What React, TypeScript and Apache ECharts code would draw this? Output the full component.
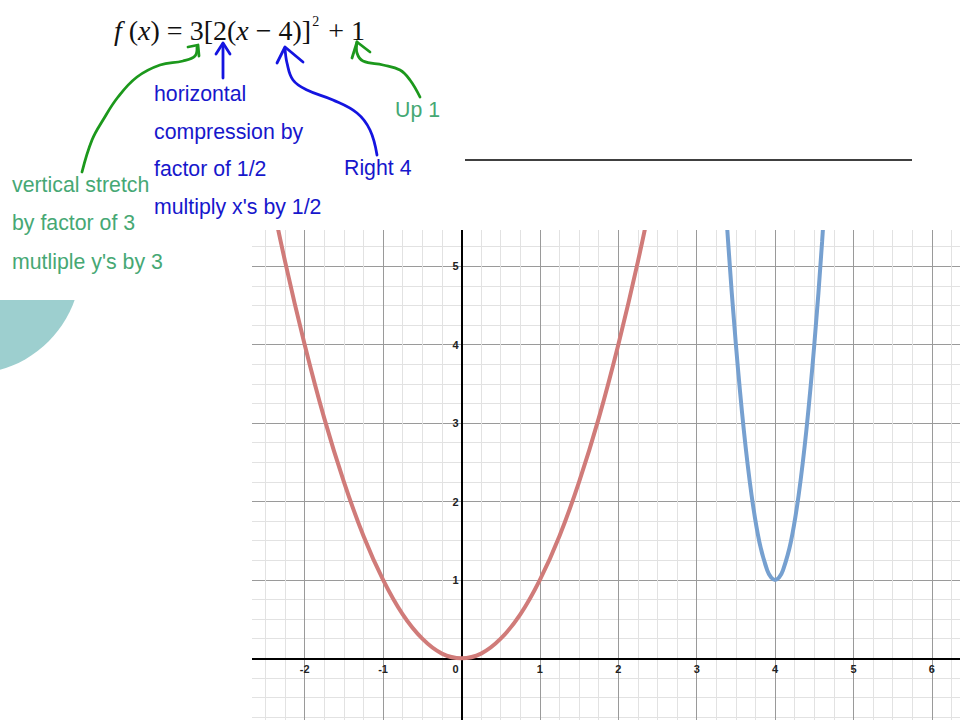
import React, { useEffect, useRef } from "react";
import * as echarts from "echarts";

// Curve samples (x, y)
const redX = [-2.5, -2.25, -2, -1.75, -1.5, -1.25, -1, -0.75, -0.5, -0.25, 0, 0.25, 0.5, 0.75, 1, 1.25, 1.5, 1.75, 2, 2.25, 2.5];
const redY = [6.25, 5.06, 4, 3.06, 2.25, 1.56, 1, 0.56, 0.25, 0.06, 0, 0.06, 0.25, 0.56, 1, 1.56, 2.25, 3.06, 4, 5.06, 6.25];
const blueX = [3.3, 3.4, 3.5, 3.6, 3.7, 3.8, 3.9, 3.95, 4, 4.05, 4.1, 4.2, 4.3, 4.4, 4.5, 4.6, 4.7];
const blueY = [6.88, 5.32, 4, 2.92, 2.08, 1.48, 1.12, 1.03, 1, 1.03, 1.12, 1.48, 2.08, 2.92, 4, 5.32, 6.88];

const xTickLabels = [-2, -1, 0, 1, 2, 3, 4, 5, 6];
const yTickLabels = [1, 2, 3, 4, 5];

const blueNotes = ["horizontal", "compression by", "factor of 1/2", "multiply x's by 1/2"];
const greenNotes = ["vertical stretch", "by factor of 3", "mutliple y's by 3"];

const GREEN_TXT = "#46a874";
const BLUE_TXT = "#1717cc";
const GREEN_PEN = "#1c981c";
const BLUE_PEN = "#1414e0";

// axis ranges and pixel scale of the graph paper
const X_MIN = -3, X_MAX = 7, Y_MIN = -1, Y_MAX = 6;
const UNIT = 78.4;
const ORIGIN_X = 461.5, ORIGIN_Y = 658.3;

export default function App() {
  const ref = useRef<HTMLDivElement>(null);
  useEffect(() => {
    const chart = echarts.init(ref.current!, null, { renderer: "svg" });
    const txt = (text: string, x: number, y: number, color: string, size = 21.3) => ({
      type: "text",
      z: 20,
      style: { text, x, y, fill: color, font: `${size}px "Liberation Sans", Arial, sans-serif`, verticalAlign: "middle" },
    });
    const pen = (points: number[][], color: string, smooth = 0) => ({
      type: "polyline",
      z: 20,
      shape: { points, smooth },
      style: { stroke: color, lineWidth: 2.8, fill: null, lineCap: "round", lineJoin: "round" },
    });
    const graphics: any[] = [
      { type: "circle", z: 1, shape: { cx: -30, cy: 263, r: 111 }, style: { fill: "#9dcfcf" } },
      { type: "rect", z: 2, shape: { x: 0, y: 150, width: 140, height: 150 }, style: { fill: "#fff" } },
      { type: "rect", z: 10, shape: { x: 180, y: 180, width: 72, height: 560 }, style: { fill: "#fff" } },
      { type: "rect", z: 10, shape: { x: 180, y: 180, width: 800, height: 50 }, style: { fill: "#fff" } },
      { type: "line", z: 20, shape: { x1: 465, y1: 160, x2: 912, y2: 160 }, style: { stroke: "#000", lineWidth: 1.5 } },
      {
        type: "text",
        z: 20,
        style: {
          x: 114,
          y: 46,
          verticalAlign: "bottom",
          text: "{i|f}{n| (}{i|x}{n|) = 3[2(}{i|x}{n| − 4)]}{s|2}{n| + 1}",
          rich: {
            i: { fontFamily: '"Liberation Serif", serif', fontStyle: "italic", fontSize: 28, fill: "#111", lineHeight: 32 },
            n: { fontFamily: '"Liberation Serif", serif', fontSize: 28, fill: "#111", lineHeight: 32 },
            s: { fontFamily: '"Liberation Serif", serif', fontSize: 14, fill: "#111", verticalAlign: "top", lineHeight: 32, padding: [0, 2, 12, 1] },
          },
        },
      },
      txt("Up 1", 395, 110, GREEN_TXT),
      txt("Right 4", 344, 168, BLUE_TXT),
      ...blueNotes.map((t, i) => txt(t, 154, 94 + i * 37.5, BLUE_TXT)),
      ...greenNotes.map((t, i) => txt(t, 12, 185 + i * 38.3, GREEN_TXT)),
      pen([[82, 172], [92, 140], [103, 120], [118, 97], [137, 77], [160, 65], [183, 61], [195, 56], [197, 47]], GREEN_PEN, 0.4),
      pen([[188, 47], [198, 45], [199, 56]], GREEN_PEN),
      pen([[223, 78], [223, 44]], BLUE_PEN),
      pen([[216, 54], [223, 43], [230, 54]], BLUE_PEN),
      pen([[377, 155], [370, 130], [357, 113], [333, 100], [307, 90], [293, 80], [287, 63], [285, 48]], BLUE_PEN, 0.4),
      pen([[277, 63], [285, 47], [303, 62]], BLUE_PEN),
      pen([[420, 97], [410, 80], [400, 70], [383, 65], [363, 61], [357, 53], [357, 42]], GREEN_PEN, 0.4),
      pen([[352, 58], [357, 42], [370, 52]], GREEN_PEN),
    ];

    const labelFont = { fontFamily: '"Liberation Sans", Arial, sans-serif', fontSize: 11, fontWeight: "bold" as any, color: "#222" };

    const gridLeft = ORIGIN_X + X_MIN * UNIT;
    const gridRight = 960 - (ORIGIN_X + X_MAX * UNIT);
    const gridTop = ORIGIN_Y - Y_MAX * UNIT;
    const gridBottom = 720 - (ORIGIN_Y - Y_MIN * UNIT);

    chart.setOption({
      animation: false,
      grid: { left: gridLeft, right: gridRight, top: gridTop, bottom: gridBottom, containLabel: false, outerBoundsMode: "none" },
      xAxis: {
        type: "value",
        position: "bottom",
        offset: Y_MIN * UNIT,
        min: X_MIN,
        max: X_MAX,
        interval: 1,
        axisLine: { onZero: false, lineStyle: { color: "#000", width: 2 } },
        axisTick: { show: false },
        axisLabel: {
          ...labelFont,
          margin: 5,
          formatter: (v: number) => (xTickLabels.includes(v) ? (v === 0 ? "{z|0}" : String(v)) : ""),
          rich: { z: { ...labelFont, padding: [0, 12, 0, 0] } },
        },
        splitLine: { show: true, lineStyle: { color: "#9a9a9a", width: 1 } },
        minorTick: { show: false, splitNumber: 4 },
        minorSplitLine: { show: true, lineStyle: { color: "#e2e2e2", width: 1 } },
      },
      yAxis: {
        type: "value",
        position: "left",
        offset: X_MIN * UNIT,
        min: Y_MIN,
        max: Y_MAX,
        interval: 1,
        axisLine: { onZero: false, lineStyle: { color: "#000", width: 2 } },
        axisTick: { show: false },
        axisLabel: {
          ...labelFont,
          margin: 3,
          formatter: (v: number) => (yTickLabels.includes(v) ? String(v) : ""),
        },
        splitLine: { show: true, lineStyle: { color: "#9a9a9a", width: 1 } },
        minorTick: { show: false, splitNumber: 4 },
        minorSplitLine: { show: true, lineStyle: { color: "#e2e2e2", width: 1 } },
      },
      series: [
        {
          type: "line",
          data: redX.map((x, i) => [x, redY[i]]),
          smooth: 0.4,
          showSymbol: false,
          clip: true,
          lineStyle: { color: "#d07b79", width: 4 },
          z: 5,
        },
        {
          type: "line",
          data: blueX.map((x, i) => [x, blueY[i]]),
          smooth: 0.4,
          showSymbol: false,
          clip: true,
          lineStyle: { color: "#76a0d0", width: 4 },
          z: 5,
        },
      ],
      graphic: { elements: graphics },
    });
    return () => chart.dispose();
  }, []);
  return <div ref={ref} style={{ position: "fixed", left: 0, top: 0, width: 960, height: 720, background: "#fff" }} />;
}
